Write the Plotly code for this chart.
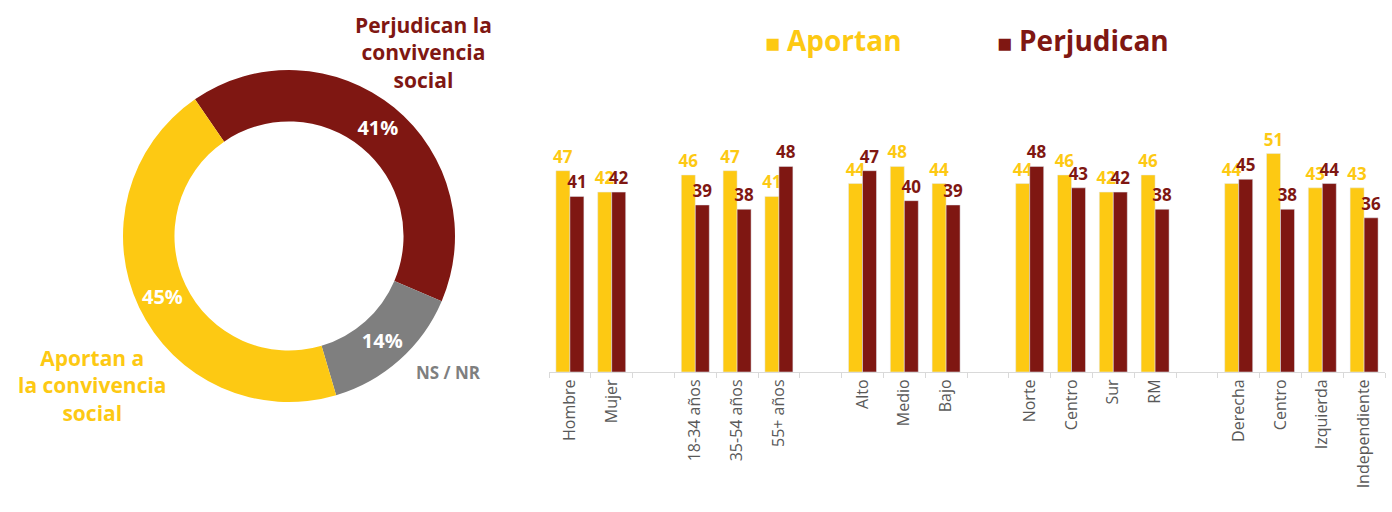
import plotly.graph_objects as go

# donut data
pie_labels = ["Perjudican la convivencia social", "NS / NR", "Aportan a la convivencia social"]
pie_values = [41, 14, 45]

# bar data (blank slots are the gaps between groups)
categories = ["Hombre", "Mujer", " ",
              "18-34 años", "35-54 años", "55+ años", "  ",
              "Alto", "Medio", "Bajo", "   ",
              "Norte", "Centro", "Sur", "RM", "    ",
              "Derecha", "Centro\u200b", "Izquierda", "Independiente"]
aportan = [47, 42, None, 46, 47, 41, None, 44, 48, 44, None, 44, 46, 42, 46, None, 44, 51, 43, 43]
perjudican = [41, 42, None, 39, 38, 48, None, 47, 40, 39, None, 48, 43, 42, 38, None, 45, 38, 44, 36]

YELLOW = "#FDC913"
RED = "#7F1712"
GRAY = "#7F7F7F"
FONT = "Open Sans"

fig = go.Figure()

fig.add_trace(go.Pie(
    labels=pie_labels, values=pie_values,
    marker=dict(colors=[RED, GRAY, YELLOW], line=dict(width=0)),
    hole=0.69, sort=False, direction="clockwise", rotation=-34.5,
    textinfo="percent", textposition="inside", insidetextorientation="horizontal",
    textfont=dict(family=FONT, size=20, color="white", weight="bold"),
    domain=dict(x=[123 / 1392, 455 / 1392], y=[0.207, 0.871]),
    showlegend=False,
))

for vals, name, col in [(aportan, "Aportan", YELLOW), (perjudican, "Perjudican", RED)]:
    fig.add_trace(go.Bar(
        x=categories, y=vals, name=name, marker_color=col,
        text=vals, textposition="outside", cliponaxis=False, constraintext="none",
        textfont=dict(family=FONT, size=17, color=col, weight="bold"),
        showlegend=False,
    ))

# legend as annotations
legend_items = [("Aportan", YELLOW, 763 / 1392), ("Perjudican", RED, 995 / 1392)]
annotations = []
for name, col, xp in legend_items:
    annotations.append(dict(x=xp, y=1 - 42 / 512, xref="paper", yref="paper", xanchor="left", yanchor="middle",
                            text="■", showarrow=False, font=dict(family=FONT, size=25, color=col)))
    annotations.append(dict(x=xp + 22 / 1392, y=1 - 40 / 512, xref="paper", yref="paper", xanchor="left",
                            yanchor="middle", text="<b>" + name + "</b>", showarrow=False,
                            font=dict(family=FONT, size=28, color=col)))

annotations += [
    dict(x=423 / 1392, y=1 - 52 / 512, xref="paper", yref="paper", xanchor="center", yanchor="middle",
         showarrow=False, text="<b>Perjudican la<br>convivencia<br>social</b>", align="center",
         font=dict(family=FONT, size=21, color=RED)),
    dict(x=93 / 1392, y=1 - 385 / 512, xref="paper", yref="paper", xanchor="center", yanchor="middle",
         showarrow=False, text="<b>Aportan a<br>la convivencia<br>social</b>", align="center",
         font=dict(family=FONT, size=21, color=YELLOW)),
    dict(x=448 / 1392, y=1 - 372 / 512, xref="paper", yref="paper", xanchor="center", yanchor="middle",
         showarrow=False, text="<b>NS / NR</b>", font=dict(family=FONT, size=17, color=GRAY)),
]

fig.update_layout(
    width=1392, height=512,
    margin=dict(l=0, r=0, t=0, b=0),
    paper_bgcolor="white", plot_bgcolor="white",
    font=dict(family=FONT, color="#404040"),
    barmode="group", bargap=0.33, bargroupgap=0,
    xaxis=dict(domain=[549 / 1392, 1385 / 1392], type="category", tickangle=-90,
               showline=True, linecolor="#D9D9D9", linewidth=1,
               ticks="outside", tickson="boundaries", ticklen=5, tickcolor="#D9D9D9",
               tickfont=dict(family=FONT, size=16, color="#595959"), showgrid=False),
    yaxis=dict(domain=[0.2734, 0.7754], range=[0, 60], visible=False),
    annotations=annotations,
)

fig.write_html("out.html", config={"displayModeBar": False},
               post_script="document.body.style.margin='0';")
